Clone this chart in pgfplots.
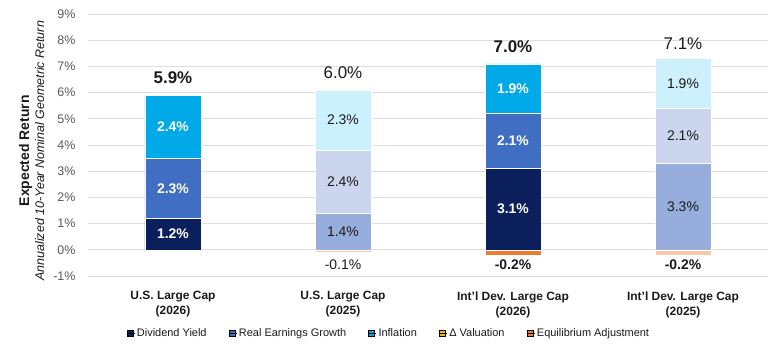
\documentclass[border=0pt]{standalone}
\usepackage{pgfplots}
\pgfplotsset{compat=1.18}
\usepackage{fontspec}
\setmainfont{Liberation Sans}
\definecolor{divA}{HTML}{0B1F5C}
\definecolor{regA}{HTML}{3F6EC2}
\definecolor{infA}{HTML}{00A9E8}
\definecolor{divB}{HTML}{97AEDC}
\definecolor{regB}{HTML}{CBD6EE}
\definecolor{infB}{HTML}{CCF0FC}
\definecolor{valc}{HTML}{F5B800}
\definecolor{eqA}{HTML}{ED7D31}
\definecolor{eqB}{HTML}{F6C9AA}
\definecolor{gridc}{HTML}{DDDDDD}
\definecolor{tickc}{HTML}{595959}
\definecolor{txt}{HTML}{1A1A1A}
\begin{document}
\begin{tikzpicture}
\pgfplotsset{base/.style={
  width=680bp, height=262bp, scale only axis,
  xmin=-0.5, xmax=3.5, ymin=-1, ymax=9,
}}
\begin{axis}[base, name=ax,
  ybar stacked, bar width=56bp,
  ymajorgrids, grid style={color=gridc, line width=0.9bp},
  axis line style={draw=none}, major tick length=0pt,
  ytick={-1,0,1,2,3,4,5,6,7,8,9},
  yticklabels={-1\%,0\%,1\%,2\%,3\%,4\%,5\%,6\%,7\%,8\%,9\%},
  yticklabel style={font=\fontsize{12.5}{13}\selectfont, text=tickc, xshift=-9bp},
  xtick={0,1,2,3},
  xticklabels={{U.S. Large Cap\\(2026)},{U.S. Large Cap\\(2025)},{Int'l Dev. Large Cap\\(2026)},{Int'l Dev. Large Cap\\(2025)}},
  xticklabel style={align=center, font=\bfseries\fontsize{12}{15}\selectfont, text=txt, yshift=-12bp},
  ylabel={{\bfseries\fontsize{14}{17}\selectfont Expected Return}\\[3bp]{\itshape\fontsize{12.5}{17}\selectfont Annualized 10-Year Nominal Geometric Return}},
  ylabel style={align=center, text=txt, at={(axis description cs:-0.083,0.478)}, anchor=center},
  legend columns=5,
  legend style={at={(0.052,0)}, anchor=west, yshift=-57bp, draw=none, fill=none,
    font=\fontsize{11}{13}\selectfont, text=txt,
    /tikz/every even column/.append style={column sep=20bp}},
  legend image code/.code={\fill[#1] (0bp,-3bp) rectangle (6bp,3bp); \path (0bp,0bp) -- (8bp,0bp);},
]
\addplot[forget plot, fill=divA, draw=white, line width=0.5bp] coordinates {(0,1.2) (1,0) (2,3.1) (3,0)};
\addplot[forget plot, fill=divB, draw=white, line width=0.5bp] coordinates {(0,0) (1,1.4) (2,0) (3,3.3)};
\addplot[forget plot, fill=regA, draw=white, line width=0.5bp] coordinates {(0,2.3) (1,0) (2,2.1) (3,0)};
\addplot[forget plot, fill=regB, draw=white, line width=0.5bp] coordinates {(0,0) (1,2.4) (2,0) (3,2.1)};
\addplot[forget plot, fill=infA, draw=white, line width=0.5bp] coordinates {(0,2.4) (1,0) (2,1.9) (3,0)};
\addplot[forget plot, fill=infB, draw=white, line width=0.5bp] coordinates {(0,0) (1,2.3) (2,0) (3,1.9)};
\addlegendimage{fill=divA}\addlegendentry{Dividend Yield}
\addlegendimage{fill=regA}\addlegendentry{Real Earnings Growth}
\addlegendimage{fill=infA}\addlegendentry{Inflation}
\addlegendimage{fill=valc}\addlegendentry{Δ Valuation}
\addlegendimage{fill=eqA}\addlegendentry{Equilibrium Adjustment}
\end{axis}
\begin{axis}[base, hide axis]
\addplot[ybar, bar width=56bp, bar shift=0pt, fill=eqA, draw=white, line width=0.3bp] coordinates {(2,-0.2)};
\addplot[ybar, bar width=56bp, bar shift=0pt, fill=eqB, draw=white, line width=0.3bp] coordinates {(1,-0.1) (3,-0.2)};
% segment labels, 2026 bars
\addplot[draw=none, mark=none, nodes near coords, point meta=explicit symbolic,
  nodes near coords align={center},
  every node near coord/.append style={anchor=center, text=white, font=\bfseries\fontsize{14}{16}\selectfont}]
  coordinates {(0,0.6)[1.2\%] (0,2.35)[2.3\%] (0,4.7)[2.4\%] (2,1.55)[3.1\%] (2,4.15)[2.1\%] (2,6.15)[1.9\%]};
% segment labels, 2025 bars
\addplot[draw=none, mark=none, nodes near coords, point meta=explicit symbolic,
  nodes near coords align={center},
  every node near coord/.append style={anchor=center, text=txt, font=\fontsize{14}{16}\selectfont}]
  coordinates {(1,0.7)[1.4\%] (1,2.6)[2.4\%] (1,4.95)[2.3\%] (3,1.65)[3.3\%] (3,4.35)[2.1\%] (3,6.35)[1.9\%]};
% totals
\addplot[draw=none, mark=none, nodes near coords, point meta=explicit symbolic,
  nodes near coords align={center},
  every node near coord/.append style={anchor=center, text=txt, font=\bfseries\fontsize{17}{19}\selectfont}]
  coordinates {(0,6.56)[5.9\%] (2,7.75)[7.0\%]};
\addplot[draw=none, mark=none, nodes near coords, point meta=explicit symbolic,
  nodes near coords align={center},
  every node near coord/.append style={anchor=center, text=txt, font=\fontsize{17}{19}\selectfont}]
  coordinates {(1,6.75)[6.0\%] (3,7.85)[7.1\%]};
% below-bar labels
\addplot[draw=none, mark=none, nodes near coords, point meta=explicit symbolic,
  nodes near coords align={center},
  every node near coord/.append style={anchor=center, text=txt, font=\fontsize{14}{16}\selectfont}]
  coordinates {(1,-0.55)[-0.1\%]};
\addplot[draw=none, mark=none, nodes near coords, point meta=explicit symbolic,
  nodes near coords align={center},
  every node near coord/.append style={anchor=center, text=txt, font=\bfseries\fontsize{14}{16}\selectfont}]
  coordinates {(2,-0.58)[-0.2\%] (3,-0.58)[-0.2\%]};
\end{axis}
\pgfresetboundingbox
\path ([xshift=-88bp,yshift=-74bp]ax.south west) rectangle ([xshift=12bp,yshift=14bp]ax.north east);
\end{tikzpicture}
\end{document}
